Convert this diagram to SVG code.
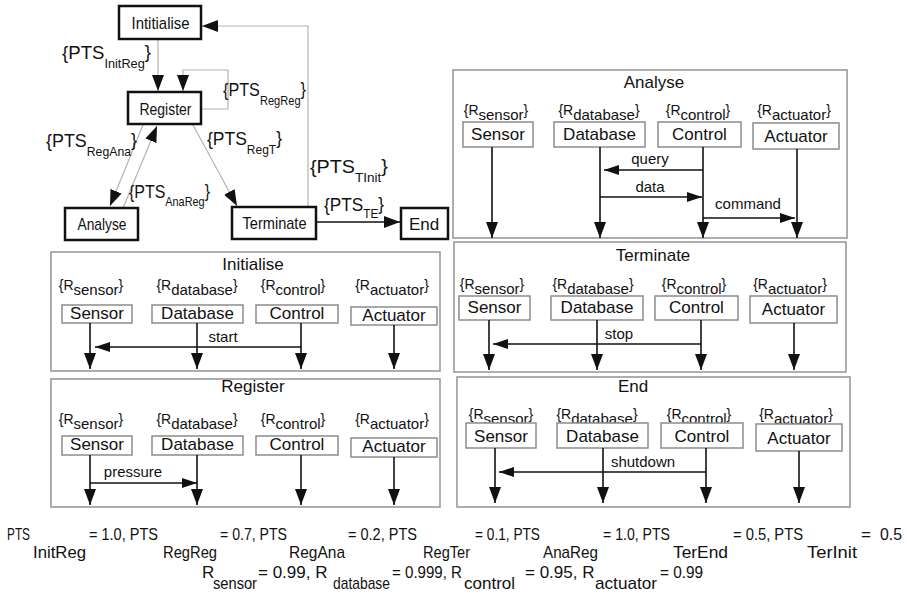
<svg xmlns="http://www.w3.org/2000/svg" width="906" height="595" viewBox="0 0 906 595">
<style>
text{font-family:"Liberation Sans",Arial,sans-serif;fill:#111}
.node{fill:#fff;stroke:#111;stroke-width:2.5}
.nt{font-size:17px;text-anchor:middle}
.pl{font-size:19px}
.sub{font-size:13px}
.gl{fill:none;stroke:#b4b4b4;stroke-width:1.2}
.bl{fill:none;stroke:#111;stroke-width:1.6}
.panel{fill:#fff;stroke:#9a9a9a;stroke-width:1.6}
.pt{font-size:17px;text-anchor:middle}
.cb{fill:#fff;stroke:#8c8c8c;stroke-width:1.5}
.ct{font-size:17px;text-anchor:middle}
.rl{font-size:14px;text-anchor:middle}
.rs{font-size:15px}
.ll{fill:none;stroke:#111;stroke-width:1.6}
.ml{font-size:15px;text-anchor:middle}
.f{font-size:17px}
</style>
<defs>
<marker id="ah" viewBox="0 0 16 12" refX="16" refY="6" markerWidth="16" markerHeight="12" markerUnits="userSpaceOnUse" orient="auto"><path d="M0,0 L16,6 L0,12 z" fill="#111"/></marker>
<marker id="am" viewBox="0 0 15 10" refX="15" refY="5" markerWidth="15" markerHeight="10" markerUnits="userSpaceOnUse" orient="auto"><path d="M0,0 L15,5 L0,10 z" fill="#111"/></marker>
</defs>

<g id="connectors">
<path class="gl" d="M158,39 V91" marker-end="url(#ah)"/>
<path class="gl" d="M201,109 H228 V70 H183 V91" marker-end="url(#ah)"/>
<path class="gl" d="M143,125 L110,206" marker-end="url(#ah)"/>
<path class="gl" d="M123,208 L157,126" marker-end="url(#ah)"/>
<path class="gl" d="M193,125 L237,206" marker-end="url(#ah)"/>
<path class="gl" d="M308,207 V26 H202" marker-end="url(#ah)"/>
<path class="bl" d="M316,222 H400" marker-end="url(#ah)"/>
</g>

<g id="edge-labels">
<text class="pl" x="62" y="59" textLength="89" lengthAdjust="spacingAndGlyphs">{PTS<tspan class="sub" dy="9">InitReg</tspan><tspan dy="-10">}</tspan></text>
<text class="pl" x="223" y="96" textLength="83" lengthAdjust="spacingAndGlyphs">{PTS<tspan class="sub" dy="9">RegReg</tspan><tspan dy="-10">}</tspan></text>
<text class="pl" x="46" y="147" textLength="91" lengthAdjust="spacingAndGlyphs">{PTS<tspan class="sub" dy="9">RegAna</tspan><tspan dy="-10">}</tspan></text>
<text class="pl" x="207" y="145" textLength="75" lengthAdjust="spacingAndGlyphs">{PTS<tspan class="sub" dy="9">RegT</tspan><tspan dy="-10">}</tspan></text>
<text class="pl" x="310" y="173" textLength="78" lengthAdjust="spacingAndGlyphs">{PTS<tspan class="sub" dy="9">TInit</tspan><tspan dy="-10">}</tspan></text>
<text class="pl" x="129" y="198" textLength="81" lengthAdjust="spacingAndGlyphs">{PTS<tspan class="sub" dy="8">AnaReg</tspan><tspan dy="-9">}</tspan></text>
<text class="pl" x="324" y="211" textLength="60" lengthAdjust="spacingAndGlyphs">{PTS<tspan class="sub" dy="7">TE</tspan><tspan dy="-8">}</tspan></text>
</g>

<g id="node-initialise"><rect class="node" x="119" y="6" width="82" height="33"/><text class="nt" x="160.5" y="29" textLength="58" lengthAdjust="spacingAndGlyphs">Intitialise</text></g>
<g id="node-register"><rect class="node" x="128" y="92" width="73" height="32"/><text class="nt" x="165.5" y="115" textLength="52" lengthAdjust="spacingAndGlyphs">Register</text></g>
<g id="node-analyse"><rect class="node" x="65" y="208" width="73" height="32"/><text class="nt" x="102" y="230" textLength="49" lengthAdjust="spacingAndGlyphs">Analyse</text></g>
<g id="node-terminate"><rect class="node" x="232" y="207" width="84" height="32"/><text class="nt" x="274.5" y="229" textLength="64" lengthAdjust="spacingAndGlyphs">Terminate</text></g>
<g id="node-end"><rect class="node" x="401" y="208" width="47" height="31"/><text class="nt" x="424" y="230">End</text></g>

<g id="panel-initialise">
<rect class="panel" x="51" y="252" width="389" height="119"/>
<text class="pt" x="253" y="270">Initialise</text>
<text class="rl" x="91" y="290">{R<tspan class="rs" dy="5">sensor</tspan><tspan dy="-5">}</tspan></text>
<text class="rl" x="197" y="290">{R<tspan class="rs" dy="5">database</tspan><tspan dy="-5">}</tspan></text>
<text class="rl" x="293" y="290">{R<tspan class="rs" dy="5">control</tspan><tspan dy="-5">}</tspan></text>
<text class="rl" x="392" y="290">{R<tspan class="rs" dy="5">actuator</tspan><tspan dy="-5">}</tspan></text>
<g id="init-sensor"><rect class="cb" x="62" y="305" width="70" height="18"/><text class="ct" x="97" y="319">Sensor</text></g>
<g id="init-database"><rect class="cb" x="152" y="305" width="91" height="18"/><text class="ct" x="197.5" y="319">Database</text></g>
<g id="init-control"><rect class="cb" x="256" y="305" width="82" height="18"/><text class="ct" x="297" y="319">Control</text></g>
<g id="init-actuator"><rect class="cb" x="351" y="307" width="86" height="18"/><text class="ct" x="394" y="321">Actuator</text></g>
<g class="seq-connectors">
<path class="ll" d="M90,323 V369" marker-end="url(#ah)"/>
<path class="ll" d="M197,323 V369" marker-end="url(#ah)"/>
<path class="ll" d="M301,323 V369" marker-end="url(#ah)"/>
<path class="ll" d="M394,325 V369" marker-end="url(#ah)"/>
<path class="ll" d="M301,347 H95" marker-end="url(#am)"/>
<text class="ml" x="223" y="342">start</text>
</g>
</g>

<g id="panel-register">
<rect class="panel" x="51" y="379" width="389" height="128"/>
<text class="pt" x="253" y="392">Register</text>
<text class="rl" x="91" y="424">{R<tspan class="rs" dy="5">sensor</tspan><tspan dy="-5">}</tspan></text>
<text class="rl" x="197" y="424">{R<tspan class="rs" dy="5">database</tspan><tspan dy="-5">}</tspan></text>
<text class="rl" x="293" y="424">{R<tspan class="rs" dy="5">control</tspan><tspan dy="-5">}</tspan></text>
<text class="rl" x="392" y="424">{R<tspan class="rs" dy="5">actuator</tspan><tspan dy="-5">}</tspan></text>
<g id="reg-sensor"><rect class="cb" x="62" y="436" width="70" height="19"/><text class="ct" x="97" y="450">Sensor</text></g>
<g id="reg-database"><rect class="cb" x="152" y="436" width="91" height="19"/><text class="ct" x="197.5" y="450">Database</text></g>
<g id="reg-control"><rect class="cb" x="256" y="436" width="82" height="19"/><text class="ct" x="297" y="450">Control</text></g>
<g id="reg-actuator"><rect class="cb" x="351" y="438" width="86" height="19"/><text class="ct" x="394" y="452">Actuator</text></g>
<g class="seq-connectors">
<path class="ll" d="M90,455 V505" marker-end="url(#ah)"/>
<path class="ll" d="M197,455 V505" marker-end="url(#ah)"/>
<path class="ll" d="M301,455 V505" marker-end="url(#ah)"/>
<path class="ll" d="M394,457 V505" marker-end="url(#ah)"/>
<path class="ll" d="M90,483 H197" marker-end="url(#am)"/>
<text class="ml" x="133" y="477">pressure</text>
</g>
</g>

<g id="panel-analyse">
<rect class="panel" x="453" y="70" width="394" height="168"/>
<text class="pt" x="654" y="88">Analyse</text>
<text class="rl" x="496" y="115">{R<tspan class="rs" dy="5">sensor</tspan><tspan dy="-5">}</tspan></text>
<text class="rl" x="599" y="115">{R<tspan class="rs" dy="5">database</tspan><tspan dy="-5">}</tspan></text>
<text class="rl" x="698" y="115">{R<tspan class="rs" dy="5">control</tspan><tspan dy="-5">}</tspan></text>
<text class="rl" x="794" y="115">{R<tspan class="rs" dy="5">actuator</tspan><tspan dy="-5">}</tspan></text>
<g id="ana-sensor"><rect class="cb" x="463" y="122" width="70" height="25"/><text class="ct" x="498" y="140">Sensor</text></g>
<g id="ana-database"><rect class="cb" x="554" y="122" width="91" height="25"/><text class="ct" x="599.5" y="140">Database</text></g>
<g id="ana-control"><rect class="cb" x="658" y="122" width="83" height="25"/><text class="ct" x="699.5" y="140">Control</text></g>
<g id="ana-actuator"><rect class="cb" x="753" y="123" width="86" height="26"/><text class="ct" x="796" y="142">Actuator</text></g>
<g class="seq-connectors">
<path class="ll" d="M492,147 V238" marker-end="url(#ah)"/>
<path class="ll" d="M600,147 V238" marker-end="url(#ah)"/>
<path class="ll" d="M703,147 V238" marker-end="url(#ah)"/>
<path class="ll" d="M797,149 V238" marker-end="url(#ah)"/>
<path class="ll" d="M703,170 H604" marker-end="url(#am)"/>
<text class="ml" x="650" y="164">query</text>
<path class="ll" d="M600,197 H702" marker-end="url(#am)"/>
<text class="ml" x="650" y="192">data</text>
<path class="ll" d="M703,218 H795" marker-end="url(#am)"/>
<text class="ml" x="748" y="209">command</text>
</g>
</g>

<g id="panel-terminate">
<rect class="panel" x="454" y="242" width="392" height="130"/>
<text class="pt" x="653" y="261">Terminate</text>
<text class="rl" x="492" y="289">{R<tspan class="rs" dy="5">sensor</tspan><tspan dy="-5">}</tspan></text>
<text class="rl" x="593" y="289">{R<tspan class="rs" dy="5">database</tspan><tspan dy="-5">}</tspan></text>
<text class="rl" x="694" y="289">{R<tspan class="rs" dy="5">control</tspan><tspan dy="-5">}</tspan></text>
<text class="rl" x="790" y="289">{R<tspan class="rs" dy="5">actuator</tspan><tspan dy="-5">}</tspan></text>
<g id="ter-sensor"><rect class="cb" x="459" y="296" width="71" height="24"/><text class="ct" x="494.5" y="313">Sensor</text></g>
<g id="ter-database"><rect class="cb" x="551" y="296" width="92" height="24"/><text class="ct" x="597" y="313">Database</text></g>
<g id="ter-control"><rect class="cb" x="655" y="296" width="83" height="24"/><text class="ct" x="696.5" y="313">Control</text></g>
<g id="ter-actuator"><rect class="cb" x="750" y="296" width="87" height="27"/><text class="ct" x="793.5" y="315">Actuator</text></g>
<g class="seq-connectors">
<path class="ll" d="M489,320 V370" marker-end="url(#ah)"/>
<path class="ll" d="M597,320 V370" marker-end="url(#ah)"/>
<path class="ll" d="M701,320 V370" marker-end="url(#ah)"/>
<path class="ll" d="M794,323 V370" marker-end="url(#ah)"/>
<path class="ll" d="M701,344 H493" marker-end="url(#am)"/>
<text class="ml" x="619" y="339">stop</text>
</g>
</g>

<g id="panel-end">
<rect class="panel" x="457" y="377" width="393" height="130"/>
<text class="pt" x="633" y="392">End</text>
<text class="rl" x="501" y="419">{R<tspan class="rs" dy="5">sensor</tspan><tspan dy="-5">}</tspan></text>
<text class="rl" x="597" y="419">{R<tspan class="rs" dy="5">database</tspan><tspan dy="-5">}</tspan></text>
<text class="rl" x="699" y="419">{R<tspan class="rs" dy="5">control</tspan><tspan dy="-5">}</tspan></text>
<text class="rl" x="796" y="419">{R<tspan class="rs" dy="5">actuator</tspan><tspan dy="-5">}</tspan></text>
<g id="end-sensor"><rect class="cb" x="466" y="423" width="70" height="25"/><text class="ct" x="501" y="442">Sensor</text></g>
<g id="end-database"><rect class="cb" x="557" y="423" width="91" height="25"/><text class="ct" x="602.5" y="442">Database</text></g>
<g id="end-control"><rect class="cb" x="661" y="423" width="82" height="25"/><text class="ct" x="702" y="442">Control</text></g>
<g id="end-actuator"><rect class="cb" x="756" y="424" width="86" height="27"/><text class="ct" x="799" y="444">Actuator</text></g>
<g class="seq-connectors">
<path class="ll" d="M495,448 V503" marker-end="url(#ah)"/>
<path class="ll" d="M603,448 V503" marker-end="url(#ah)"/>
<path class="ll" d="M706,448 V503" marker-end="url(#ah)"/>
<path class="ll" d="M799,451 V503" marker-end="url(#ah)"/>
<path class="ll" d="M706,472 H499" marker-end="url(#am)"/>
<text class="ml" x="643" y="467">shutdown</text>
</g>
</g>

<g id="formula">
<text class="f" x="7" y="540" textLength="23" lengthAdjust="spacingAndGlyphs">PTS</text>
<text class="f" x="33" y="558" textLength="53" lengthAdjust="spacingAndGlyphs">InitReg</text>
<text class="f" x="89" y="540" textLength="69" lengthAdjust="spacingAndGlyphs">= 1.0, PTS</text>
<text class="f" x="163" y="558" textLength="54" lengthAdjust="spacingAndGlyphs">RegReg</text>
<text class="f" x="220" y="540" textLength="67" lengthAdjust="spacingAndGlyphs">= 0.7, PTS</text>
<text class="f" x="289" y="558" textLength="56" lengthAdjust="spacingAndGlyphs">RegAna</text>
<text class="f" x="348" y="540" textLength="69" lengthAdjust="spacingAndGlyphs">= 0.2, PTS</text>
<text class="f" x="423" y="558" textLength="47" lengthAdjust="spacingAndGlyphs">RegTer</text>
<text class="f" x="475" y="540" textLength="65" lengthAdjust="spacingAndGlyphs">= 0.1,  PTS</text>
<text class="f" x="543" y="558" textLength="55" lengthAdjust="spacingAndGlyphs">AnaReg</text>
<text class="f" x="603" y="540" textLength="67" lengthAdjust="spacingAndGlyphs">= 1.0, PTS</text>
<text class="f" x="673" y="558" textLength="55" lengthAdjust="spacingAndGlyphs">TerEnd</text>
<text class="f" x="733" y="540" textLength="70" lengthAdjust="spacingAndGlyphs">= 0.5, PTS</text>
<text class="f" x="807" y="558" textLength="50" lengthAdjust="spacingAndGlyphs">TerInit</text>
<text class="f" x="861" y="540">=</text>
<text class="f" x="880" y="540" textLength="22" lengthAdjust="spacingAndGlyphs">0.5</text>
<text class="f" x="202" y="578">R</text>
<text class="f" x="213" y="589" textLength="44" lengthAdjust="spacingAndGlyphs">sensor</text>
<text class="f" x="258" y="578">= 0.99, R</text>
<text class="f" x="333" y="589" textLength="57" lengthAdjust="spacingAndGlyphs">database</text>
<text class="f" x="392" y="578" textLength="70" lengthAdjust="spacingAndGlyphs">= 0.999, R</text>
<text class="f" x="464" y="589">control</text>
<text class="f" x="525" y="578">= 0.95, R</text>
<text class="f" x="595" y="589" textLength="62" lengthAdjust="spacingAndGlyphs">actuator</text>
<text class="f" x="660" y="578" textLength="43" lengthAdjust="spacingAndGlyphs">= 0.99</text>
</g>
</svg>
